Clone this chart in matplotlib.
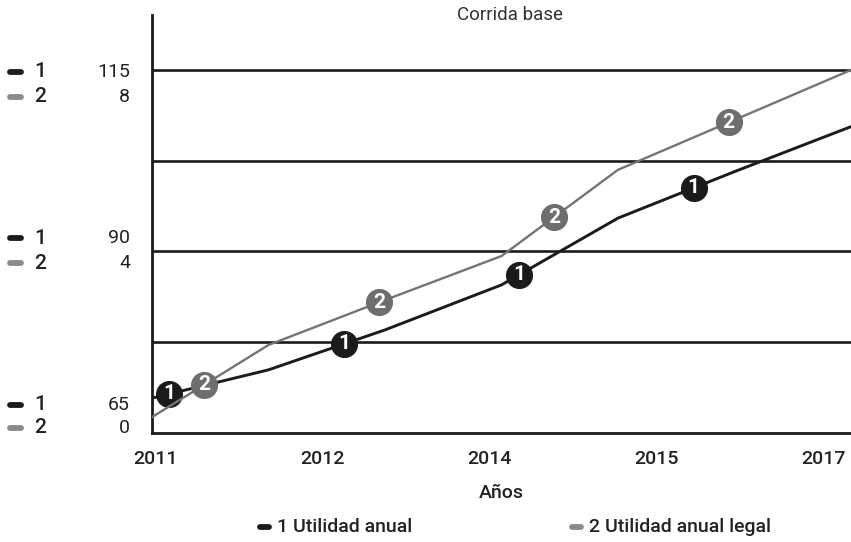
import numpy as np
from matplotlib import pyplot as plt
from matplotlib.lines import Line2D

plt.rcParams['font.family'] = ['Roboto', 'DejaVu Sans']

# Data (yearly values)
years = [2011, 2012, 2013, 2014, 2015, 2016, 2017]
utilidad_anual = [69.8, 73.7, 79.2, 85.4, 94.6, 101.0, 107.2]   # series 1, scale 65-115
utilidad_legal = [0.35, 1.94, 2.93, 3.90, 5.80, 6.90, 8.0]      # series 2, scale 0-8

scale1_labels = [65, 90, 115]
scale2_labels = [0, 4, 8]
grid_levels = [77.5, 90, 102.5, 115]
xtick_labels = ['2011', '2012', '2014', '2015', '2017']
title = 'Corrida base'
xlabel = 'Años'
series_names = ['1 Utilidad anual', '2 Utilidad anual legal']

BLACK = '#1c1a1a'
GRAY = '#6e6e6e'
GRAY_LINE = '#747474'
GRAY_DASH = '#8a8a8a'
TXT = '#222222'

W, H = 851, 542
fig = plt.figure(figsize=(W / 100, H / 100), dpi=100)
ax = fig.add_axes([152 / W, (H - 433) / H, 699 / W, (433 - 15) / H])
ax.set_xlim(2011, 2017)
ax.set_ylim(65, 65 + (433 - 15) / 363 * 50)
ax2 = ax.twinx()
ax2.set_ylim(0, (433 - 15) / 363 * 8)

for a in (ax, ax2):
    for s in ('top', 'right'):
        a.spines[s].set_visible(False)
ax2.spines['left'].set_visible(False)
ax2.spines['bottom'].set_visible(False)
ax2.set_yticks([])
ax.set_yticks([])
for s in ('left', 'bottom'):
    ax.spines[s].set_linewidth(2)
    ax.spines[s].set_color(BLACK)

for g in grid_levels:
    ax.axhline(g, color=BLACK, lw=1.9, zorder=1)

# lines
ax.plot(years, utilidad_anual, color=BLACK, lw=2.1, zorder=2)
ax2.plot(years, utilidad_legal, color=GRAY_LINE, lw=1.7, zorder=2)

# numbered markers along the lines
m1_x = 2011.15 + 1.5 * np.arange(4)
m2_x = 2011.45 + 1.5 * np.arange(4)
m1_y = np.interp(m1_x, years, utilidad_anual)
m2_y = np.interp(m2_x, years, utilidad_legal)
ax.plot(m1_x, m1_y, 'o', ms=18.5, color=BLACK, mec=BLACK, zorder=3)
ax2.plot(m2_x, m2_y, 'o', ms=18.5, color=GRAY, mec=GRAY, zorder=3)
for x, y in zip(m1_x, m1_y):
    ax.text(x, y, '1', ha='center', va='center', color='white', fontsize=15,
            fontweight='bold', zorder=4)
for x, y in zip(m2_x, m2_y):
    ax2.text(x, y, '2', ha='center', va='center', color='white', fontsize=15,
             fontweight='bold', zorder=4)

# x ticks (Vensim-style label placement)
ax.set_xticks(np.linspace(2011.03, 2016.76, 5))
ax.set_xticklabels(xtick_labels, fontsize=14, color=TXT, fontweight='medium')
ax.tick_params(axis='x', length=0, pad=12)
ax.set_xlabel(xlabel, fontsize=14, color=TXT, labelpad=12, fontweight='medium')
fig.text(510 / W, (H - 15) / H, title, fontsize=13.5, color='#333333',
         ha='center', va='center')

# left scales (pixel offsets from each level, up positive)
offsets1 = [28, 13, -2]
offsets2 = [5, -12, -27]
for v1, v2, d1, d2 in zip(scale1_labels, scale2_labels, offsets1, offsets2):
    for val, d, num, col in ((v1, d1, '1', BLACK), (v2, d2, '2', GRAY_DASH)):
        ax.annotate(str(val), xy=(0, v1), xycoords=('axes fraction', 'data'),
                    xytext=(-22, d), textcoords='offset pixels',
                    ha='right', va='center', fontsize=14, color=TXT)
        ax.annotate(num, xy=(0, v1), xycoords=('axes fraction', 'data'),
                    xytext=(-112, d), textcoords='offset pixels',
                    ha='center', va='center', fontsize=15, color=TXT,
                    fontweight='medium')
        py = ax.transData.transform((2011, v1))[1] + d
        fig.add_artist(Line2D([10 / W, 21 / W], [py / H, py / H], color=col,
                              lw=4.2, solid_capstyle='round'))

# bottom legend
leg_y = (H - 527) / H
fig.add_artist(Line2D([260 / W, 269 / W], [leg_y, leg_y], color=BLACK, lw=4.2, solid_capstyle='round'))
fig.text(277 / W, leg_y, series_names[0], fontsize=14, color=TXT, va='center', fontweight='medium')
fig.add_artist(Line2D([572 / W, 581 / W], [leg_y, leg_y], color=GRAY_DASH, lw=4.2, solid_capstyle='round'))
fig.text(589 / W, leg_y, series_names[1], fontsize=14, color=TXT, va='center', fontweight='medium')

fig.savefig('out.png', dpi=100)
